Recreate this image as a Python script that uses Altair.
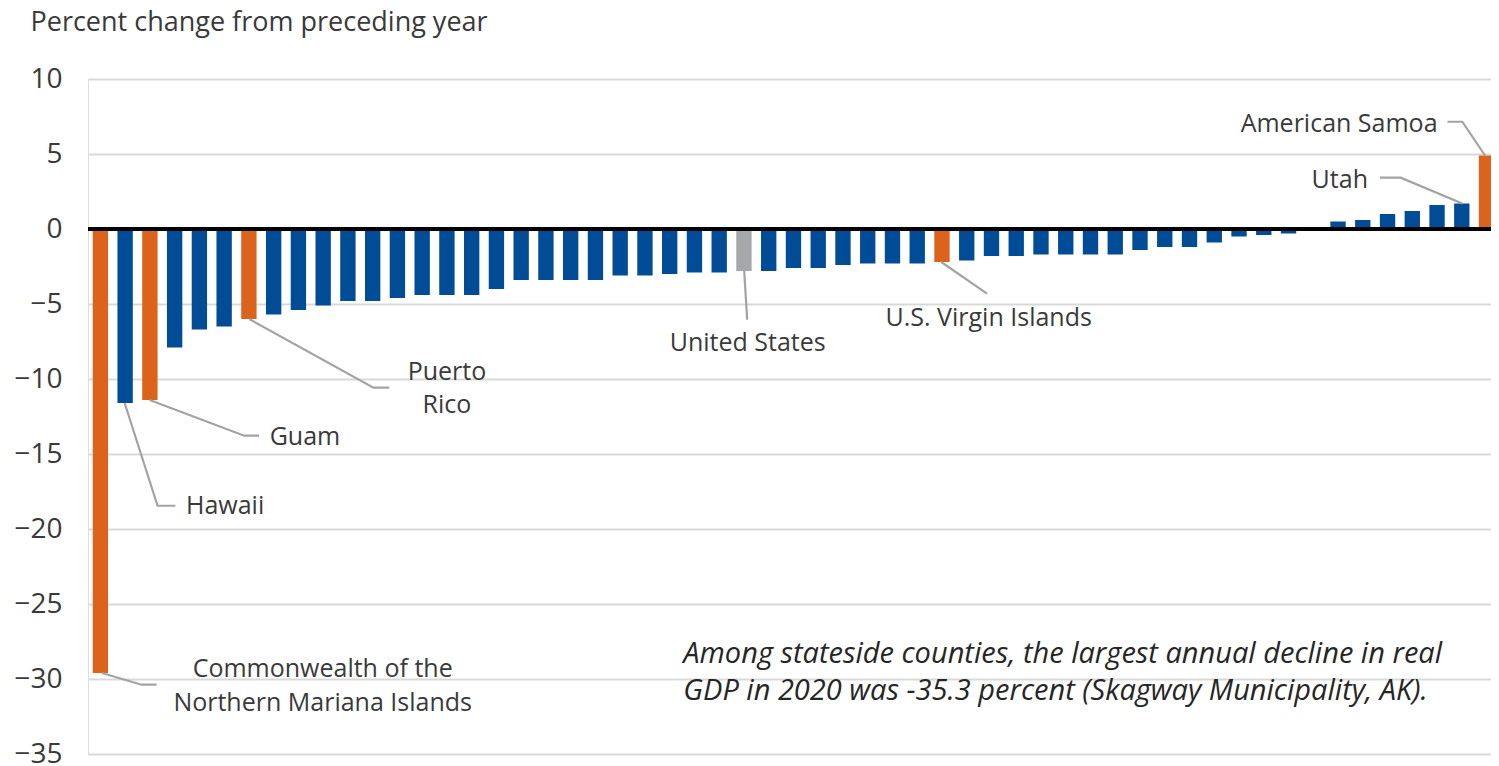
import altair as alt
import pandas as pd

# ---- data ----
names = ["Commonwealth of the Northern Mariana Islands", "Hawaii", "Guam",
         "State 4", "State 5", "State 6", "Puerto Rico", "State 8", "State 9", "State 10",
         "State 11", "State 12", "State 13", "State 14", "State 15", "State 16", "State 17",
         "State 18", "State 19", "State 20", "State 21", "State 22", "State 23", "State 24",
         "State 25", "State 26", "United States", "State 28", "State 29", "State 30",
         "State 31", "State 32", "State 33", "State 34", "U.S. Virgin Islands", "State 36",
         "State 37", "State 38", "State 39", "State 40", "State 41", "State 42", "State 43",
         "State 44", "State 45", "State 46", "State 47", "State 48", "State 49", "State 50",
         "State 51", "State 52", "State 53", "State 54", "State 55", "Utah", "American Samoa"]
values = [-29.6, -11.6, -11.4, -7.9, -6.7, -6.5, -6.0, -5.7, -5.4, -5.1,
          -4.8, -4.8, -4.6, -4.4, -4.4, -4.4, -4.0, -3.4, -3.4, -3.4,
          -3.4, -3.1, -3.1, -3.0, -2.9, -2.9, -2.8, -2.8, -2.6, -2.6,
          -2.4, -2.3, -2.3, -2.3, -2.2, -2.1, -1.8, -1.8, -1.7, -1.7,
          -1.7, -1.7, -1.4, -1.2, -1.2, -0.9, -0.5, -0.4, -0.3, 0.0,
          0.5, 0.6, 1.0, 1.2, 1.6, 1.7, 4.9]
territories = ["Commonwealth of the Northern Mariana Islands", "Guam", "Puerto Rico",
               "U.S. Virgin Islands", "American Samoa"]
kinds = ["Territory" if n in territories else ("Nation" if n == "United States" else "State")
         for n in names]

y_ticks = [10, 5, 0, -5, -10, -15, -20, -25, -30, -35]
y_title = "Percent change from preceding year"
note_lines = ["Among stateside counties, the largest annual decline in real",
              "GDP in 2020 was -35.3 percent (Skagway Municipality, AK)."]

# annotation labels: text, x (bar index units), y (percent), alignment
label_text = ["American Samoa", "Utah", "United States", "U.S. Virgin Islands", "Guam",
              "Hawaii", "Puerto", "Rico", "Commonwealth of the", "Northern Mariana Islands"]
label_x = [54.02, 51.21, 26.15, 31.72, 6.84, 3.46, 14.0, 14.0, 8.98, 8.98]
label_y = [6.49, 2.75, -8.16, -6.45, -14.43, -19.0, -10.05, -12.27, -29.89, -32.11]
label_align = ["right", "right", "center", "left", "left", "left", "center", "center",
               "center", "center"]

# leader lines: label, x points, y points
leader_label = ["AS"] * 3 + ["UT"] * 3 + ["US"] * 2 + ["VI"] * 2 + ["GU"] * 3 + \
               ["HI"] * 3 + ["PR"] * 3 + ["MP"] * 3
leader_x = [55.94, 55.02, 54.42, 55.02, 52.53, 51.69, 26.01, 26.13, 33.97, 35.82,
            1.99, 5.81, 6.41, 0.98, 2.31, 3.03, 6.01, 11.03, 11.67, 0.06, 1.67, 2.27]
leader_y = [4.9, 7.15, 7.15, 1.7, 3.42, 3.42, -2.8, -6.05, -2.2, -4.31,
            -11.4, -13.78, -13.78, -11.6, -18.45, -18.45, -6.0, -10.58, -10.58,
            -29.6, -30.38, -30.38]

note_x = 23.55
note_y = [-28.93, -31.43]

# ---- tables ----
bars = pd.DataFrame({"name": names, "value": values, "kind": kinds,
                     "idx": list(range(len(names)))})
labels = pd.DataFrame({"text": label_text, "x": label_x, "y": label_y, "align": label_align})
leaders = pd.DataFrame({"label": leader_label, "x": leader_x, "y": leader_y,
                        "order": list(range(len(leader_x)))})
notes = pd.DataFrame({"text": note_lines, "x": [note_x] * 2, "y": note_y})

FONT = "Open Sans"
TXT = "#3a3a3a"
xscale = alt.Scale(domain=[-0.5, 56.18], nice=False, zero=False)
yscale = alt.Scale(domain=[-35, 10], nice=False)

bar_layer = alt.Chart(bars).transform_calculate(
    x0="datum.idx - 0.31", x1="datum.idx + 0.31"
).mark_bar(clip=True).encode(
    x=alt.X("x0:Q", scale=xscale, axis=None),
    x2="x1:Q",
    y=alt.Y("value:Q", scale=yscale,
            axis=alt.Axis(values=y_ticks, title=y_title, titleAngle=0, titleAlign="left",
                          titleBaseline="alphabetic", titleX=-58, titleY=-48.3,
                          titleFont=FONT, titleFontSize=27, titleFontWeight="normal",
                          titleColor=TXT, labelFont=FONT, labelFontSize=28,
                          labelColor=TXT, labelPadding=26, ticks=False, domain=False,
                          grid=True, gridColor="#d9d9d9", gridWidth=2)),
    y2=alt.datum(0),
    color=alt.Color("kind:N", legend=None,
                    scale=alt.Scale(domain=["State", "Territory", "Nation"],
                                    range=["#004c97", "#dc631c", "#a5a8aa"])),
)

zero_layer = alt.Chart(bars).mark_rule(color="black", strokeWidth=2.5).encode(
    y=alt.datum(0, scale=yscale))

leader_layer = alt.Chart(leaders).mark_line(color="#a3a3a3", strokeWidth=2.2).encode(
    x=alt.X("x:Q", scale=xscale), y=alt.Y("y:Q", scale=yscale),
    detail="label:N", order="order:Q")

def text_layer(align):
    return alt.Chart(labels[labels["align"] == align]).mark_text(
        align=align, baseline="alphabetic", font=FONT, fontSize=25, color=TXT
    ).encode(x=alt.X("x:Q", scale=xscale), y=alt.Y("y:Q", scale=yscale), text="text:N")

note_layer = alt.Chart(notes).mark_text(
    align="left", baseline="alphabetic", font=FONT, fontSize=29, fontStyle="italic",
    color="#262626"
).encode(x=alt.X("x:Q", scale=xscale), y=alt.Y("y:Q", scale=yscale), text="text:N")

chart = alt.layer(
    bar_layer, zero_layer, leader_layer,
    text_layer("left"), text_layer("center"), text_layer("right"), note_layer
).properties(
    width=1403, height=675,
    autosize=alt.AutoSizeParams(type="none"),
    padding={"left": 80, "top": 71, "right": 0, "bottom": 12},
).configure_view(stroke=None).configure(background="white")

chart.save("out.html", embed_options={"renderer": "svg", "actions": False})
